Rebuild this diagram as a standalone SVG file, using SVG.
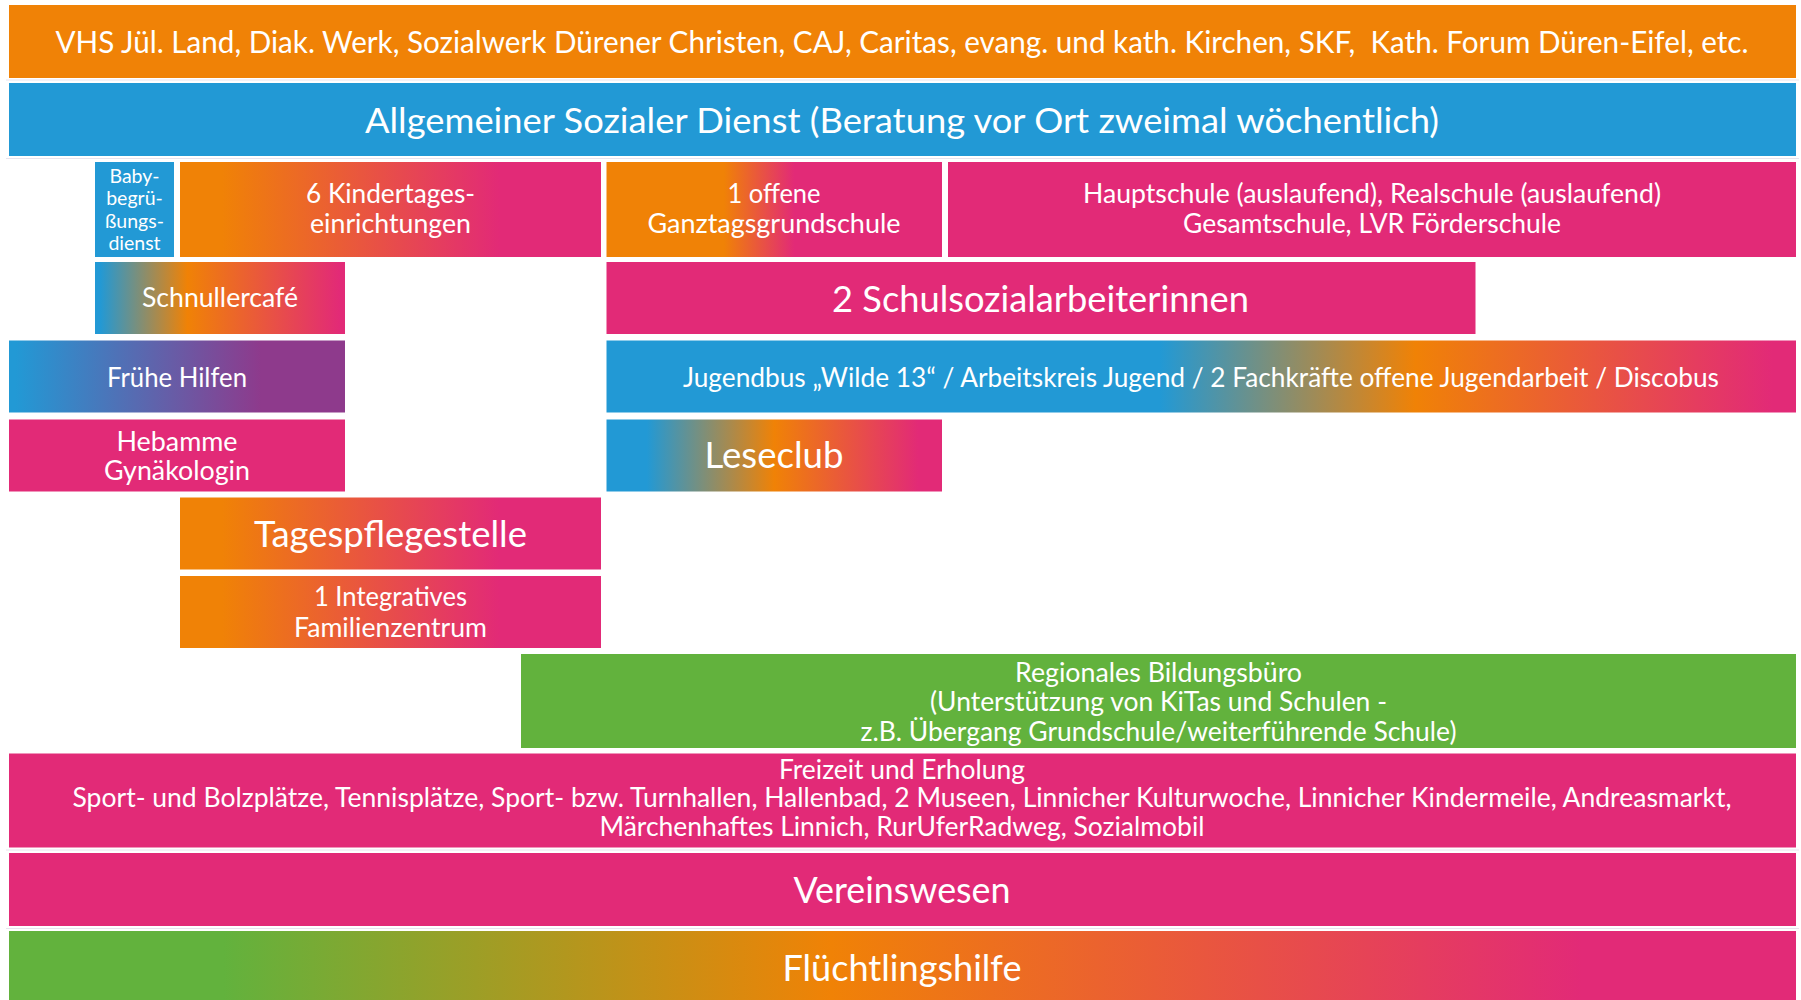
<svg xmlns="http://www.w3.org/2000/svg" width="1801" height="1000" viewBox="0 0 1801 1000">
<style>
.t{font-family:Lato,"Open Sans",sans-serif;fill:#fff;text-anchor:middle}
.s19{font-size:19.5px}.s26{font-size:26px}.s30{font-size:30px}.s35{font-size:35px}.s36{font-size:36px}
.grid{stroke:#e8e3ee;stroke-width:1}
.or{fill:#F08206}.pk{fill:#E22A77}.bl{fill:#2299D5}.gr{fill:#62B23D}
</style>
<defs>
<linearGradient id="gOP" x1="0" y1="0" x2="1" y2="0"><stop offset="0.1" stop-color="#F08206"/><stop offset="0.76" stop-color="#E22A77"/></linearGradient>
<linearGradient id="gOffen" x1="0" y1="0" x2="1" y2="0"><stop offset="0.35" stop-color="#F08206"/><stop offset="0.56" stop-color="#E22A77"/></linearGradient>
<linearGradient id="gSchn" x1="0" y1="0" x2="1" y2="0"><stop offset="0.02" stop-color="#2299D5"/><stop offset="0.37" stop-color="#F08206"/><stop offset="0.98" stop-color="#E22A77"/></linearGradient>
<linearGradient id="gFrueh" x1="0" y1="0" x2="1" y2="0"><stop offset="0.02" stop-color="#2299D5"/><stop offset="0.75" stop-color="#8E3A8C"/></linearGradient>
<linearGradient id="gJug" x1="0" y1="0" x2="1" y2="0"><stop offset="0.465" stop-color="#2299D5"/><stop offset="0.68" stop-color="#F08206"/><stop offset="0.98" stop-color="#E22A77"/></linearGradient>
<linearGradient id="gLese" x1="0" y1="0" x2="1" y2="0"><stop offset="0.12" stop-color="#2299D5"/><stop offset="0.5" stop-color="#F08206"/><stop offset="0.93" stop-color="#E22A77"/></linearGradient>
<linearGradient id="gFlucht" x1="0" y1="0" x2="1" y2="0"><stop offset="0.12" stop-color="#62B23D"/><stop offset="0.46" stop-color="#F08206"/><stop offset="0.88" stop-color="#E22A77"/></linearGradient>
</defs>
<rect width="1801" height="1000" fill="#fff"/>
<g id="grid">
<line class="grid" x1="6" y1="80" x2="1799" y2="80"/>
<line class="grid" x1="6" y1="158.5" x2="1799" y2="158.5"/>
<line class="grid" x1="6" y1="850" x2="1799" y2="850"/>
<line class="grid" x1="6" y1="928.5" x2="1799" y2="928.5"/>
</g>
<g id="connectors"/>
<g id="traeger">
<rect class="or" x="9" y="5" width="1787" height="73"/>
<text class="t s30" x="902" y="53" xml:space="preserve" textLength="1693" lengthAdjust="spacingAndGlyphs">VHS Jül. Land, Diak. Werk, Sozialwerk Dürener Christen, CAJ, Caritas, evang. und kath. Kirchen, SKF,  Kath. Forum Düren-Eifel, etc.</text>
</g>
<g id="asd">
<rect class="bl" x="9" y="83" width="1787" height="73"/>
<text class="t s35" x="902" y="133" textLength="1074" lengthAdjust="spacingAndGlyphs">Allgemeiner Sozialer Dienst (Beratung vor Ort zweimal wöchentlich)</text>
</g>
<g id="babybegruessung">
<rect class="bl" x="95" y="162" width="79" height="95"/>
<text class="t s19" x="134.5" y="182.5">Baby-</text>
<text class="t s19" x="134.5" y="205">begrü-</text>
<text class="t s19" x="134.5" y="227.5">ßungs-</text>
<text class="t s19" x="134.5" y="250">dienst</text>
</g>
<g id="kitas">
<rect x="180" y="162" width="421" height="95" fill="url(#gOP)"/>
<text class="t s26" x="390.5" y="203" textLength="169" lengthAdjust="spacingAndGlyphs">6 Kindertages-</text>
<text class="t s26" x="390.5" y="233" textLength="161" lengthAdjust="spacingAndGlyphs">einrichtungen</text>
</g>
<g id="ogs">
<rect x="606.5" y="162" width="335.5" height="95" fill="url(#gOffen)"/>
<text class="t s26" x="774" y="203" textLength="93" lengthAdjust="spacingAndGlyphs">1 offene</text>
<text class="t s26" x="774" y="233" textLength="253" lengthAdjust="spacingAndGlyphs">Ganztagsgrundschule</text>
</g>
<g id="schulen">
<rect class="pk" x="948" y="162" width="848" height="95"/>
<text class="t s26" x="1372" y="203" textLength="578" lengthAdjust="spacingAndGlyphs">Hauptschule (auslaufend), Realschule (auslaufend)</text>
<text class="t s26" x="1372" y="233" textLength="378" lengthAdjust="spacingAndGlyphs">Gesamtschule, LVR Förderschule</text>
</g>
<g id="schnullercafe">
<rect x="95" y="262" width="250" height="72" fill="url(#gSchn)"/>
<text class="t s26" x="220" y="307" textLength="156" lengthAdjust="spacingAndGlyphs">Schnullercafé</text>
</g>
<g id="schulsozialarbeit">
<rect class="pk" x="606.5" y="262" width="869" height="72"/>
<text class="t s36" x="1040.5" y="312" textLength="417" lengthAdjust="spacingAndGlyphs">2 Schulsozialarbeiterinnen</text>
</g>
<g id="fruehehilfen">
<rect x="9" y="340.5" width="336" height="72" fill="url(#gFrueh)"/>
<text class="t s26" x="177" y="387" textLength="140" lengthAdjust="spacingAndGlyphs">Frühe Hilfen</text>
</g>
<g id="jugend">
<rect x="606.5" y="340.5" width="1189.5" height="72" fill="url(#gJug)"/>
<text class="t s26" x="1201" y="387" textLength="1036" lengthAdjust="spacingAndGlyphs">Jugendbus „Wilde 13“ / Arbeitskreis Jugend / 2 Fachkräfte offene Jugendarbeit / Discobus</text>
</g>
<g id="hebamme">
<rect class="pk" x="9" y="419.5" width="336" height="72"/>
<text class="t s26" x="177" y="450.5" textLength="121" lengthAdjust="spacingAndGlyphs">Hebamme</text>
<text class="t s26" x="177" y="480" textLength="146" lengthAdjust="spacingAndGlyphs">Gynäkologin</text>
</g>
<g id="leseclub">
<rect x="606.5" y="419.5" width="335.5" height="72" fill="url(#gLese)"/>
<text class="t s36" x="774" y="468" textLength="139" lengthAdjust="spacingAndGlyphs">Leseclub</text>
</g>
<g id="tagespflege">
<rect x="180" y="497.5" width="421" height="72" fill="url(#gOP)"/>
<text class="t s36" x="390.5" y="547" textLength="273" lengthAdjust="spacingAndGlyphs">Tagespflegestelle</text>
</g>
<g id="familienzentrum">
<rect x="180" y="576" width="421" height="72" fill="url(#gOP)"/>
<text class="t s26" x="390.5" y="605.5" textLength="153" lengthAdjust="spacingAndGlyphs">1 Integratives</text>
<text class="t s26" x="390.5" y="636.5" textLength="193" lengthAdjust="spacingAndGlyphs">Familienzentrum</text>
</g>
<g id="bildungsbuero">
<rect class="gr" x="521" y="654" width="1275" height="94"/>
<text class="t s26" x="1158.5" y="681.5" textLength="287" lengthAdjust="spacingAndGlyphs">Regionales Bildungsbüro</text>
<text class="t s26" x="1158.5" y="711" textLength="457" lengthAdjust="spacingAndGlyphs">(Unterstützung von KiTas und Schulen -</text>
<text class="t s26" x="1158.5" y="740.5" textLength="596" lengthAdjust="spacingAndGlyphs">z.B. Übergang Grundschule/weiterführende Schule)</text>
</g>
<g id="freizeit">
<rect class="pk" x="9" y="753.5" width="1787" height="94"/>
<text class="t s26" x="902" y="778.5" textLength="246" lengthAdjust="spacingAndGlyphs">Freizeit und Erholung</text>
<text class="t s26" x="902" y="807" textLength="1659" lengthAdjust="spacingAndGlyphs">Sport- und Bolzplätze, Tennisplätze, Sport- bzw. Turnhallen, Hallenbad, 2 Museen, Linnicher Kulturwoche, Linnicher Kindermeile, Andreasmarkt,</text>
<text class="t s26" x="902" y="836" textLength="605" lengthAdjust="spacingAndGlyphs">Märchenhaftes Linnich, RurUferRadweg, Sozialmobil</text>
</g>
<g id="vereinswesen">
<rect class="pk" x="9" y="853" width="1787" height="73"/>
<text class="t s36" x="902" y="903" textLength="217" lengthAdjust="spacingAndGlyphs">Vereinswesen</text>
</g>
<g id="fluechtlingshilfe">
<rect x="9" y="931" width="1787" height="69" fill="url(#gFlucht)"/>
<text class="t s36" x="902" y="981" textLength="239" lengthAdjust="spacingAndGlyphs">Flüchtlingshilfe</text>
</g>
</svg>
